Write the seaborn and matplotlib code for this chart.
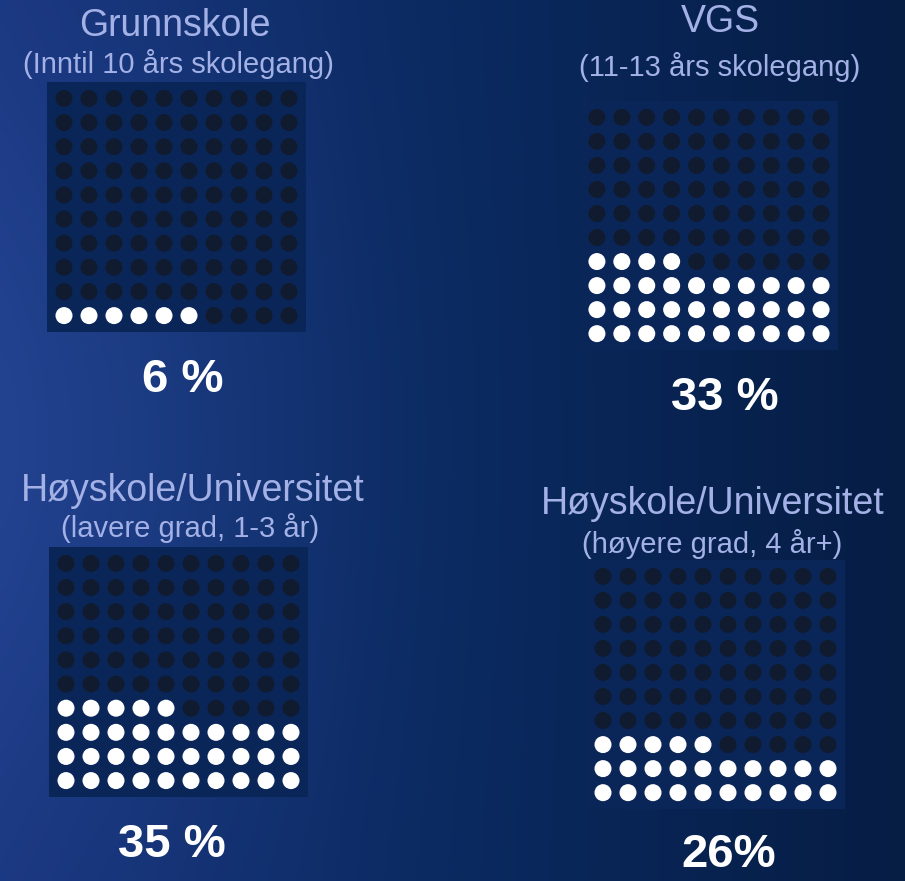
import numpy as np
import pandas as pd
import seaborn as sns
import matplotlib.pyplot as plt
from matplotlib.colors import to_rgb

# panel data (dots as drawn, labels as printed)
titles = ["Grunnskole", "VGS", "Høyskole/Universitet", "Høyskole/Universitet"]
subtitles = ["(Inntil 10 års skolegang)", "(11-13 års skolegang)",
             "(lavere grad, 1-3 år)", "(høyere grad, 4 år+)"]
pct_labels = ["6 %", "33 %", "35 %", "26%"]
filled_dots = [6, 34, 35, 25]

title_color = "#a3b1e6"
box_color = "#0a2659"
dark_dot = "#101b2f"

sns.set_theme(style="white")
plt.rcParams['font.family'] = ['Liberation Sans', 'DejaVu Sans']

W, H = 905, 881
fig = plt.figure(figsize=(W / 100, H / 100), dpi=100)

# background gradient
bg = fig.add_axes([0, 0, 1, 1])
xx, yy = np.meshgrid(np.linspace(0, 1, 300), np.linspace(0, 1, 300))
c_left = np.array(to_rgb("#1b3a88"))
c_mid = np.array(to_rgb("#0b2d68"))
c_right = np.array(to_rgb("#07204a"))
t = xx[..., None]
img = np.where(t < 0.5, c_left + (c_mid - c_left) * (t / 0.5),
               c_mid + (c_right - c_mid) * ((t - 0.5) / 0.5))
glow = np.exp(-(((xx) / 0.35) ** 2 + ((yy - 0.5) / 0.45) ** 2))[..., None]
img = img * (0.92 + 0.08 * glow) + 0.03 * glow
bg.imshow(np.clip(img, 0, 1), aspect="auto", extent=[0, 1, 0, 1], origin="lower")
bg.set_axis_off()

# panel boxes in pixels: left, top, width, height
boxes = [(47, 82, 259, 250), (580, 101, 258, 249),
         (49, 547, 259, 250), (586, 560, 259, 249)]
# text anchors (center x, baseline y) in pixels
title_pos = [(175, 36), (720, 32), (193, 501), (713, 514)]
sub_pos = [(178, 73), (720, 76), (190, 537), (712, 553)]
pct_pos = [(183, 392), (725, 410), (172, 857), (729, 867)]

for i in range(4):
    l, top, w, h = boxes[i]
    ax = fig.add_axes([l / W, 1 - (top + h) / H, w / W, h / H])
    idx = np.arange(100)
    df = pd.DataFrame({"col": idx % 10, "row": idx // 10,
                       "filled": np.where(idx < filled_dots[i], "yes", "no")})
    sns.scatterplot(data=df, x="col", y="row", hue="filled",
                    palette={"yes": "white", "no": dark_dot},
                    s=150, linewidth=0, legend=False, ax=ax)
    ax.set_xlim(-0.68, 9.68)
    ax.set_ylim(-0.68, 9.68)
    ax.set_facecolor(box_color)
    ax.set_xticks([])
    ax.set_yticks([])
    ax.set_xlabel("")
    ax.set_ylabel("")
    for s in ax.spines.values():
        s.set_visible(False)

    fig.text(title_pos[i][0] / W, 1 - title_pos[i][1] / H, titles[i],
             ha="center", va="baseline", fontsize=27, color=title_color)
    fig.text(sub_pos[i][0] / W, 1 - sub_pos[i][1] / H, subtitles[i],
             ha="center", va="baseline", fontsize=21, color=title_color)
    fig.text(pct_pos[i][0] / W, 1 - pct_pos[i][1] / H, pct_labels[i],
             ha="center", va="baseline", fontsize=34, fontweight="bold", color="white")

fig.savefig("out.png", dpi=100)
